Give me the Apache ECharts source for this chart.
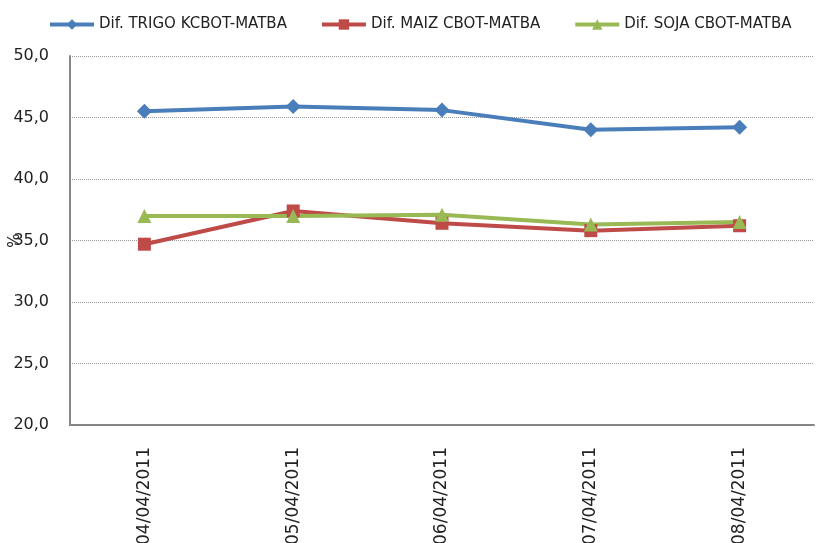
<!DOCTYPE html>
<html lang="es">
<head>
    <meta charset="UTF-8">
    <title>Dif. CBOT-MATBA</title>
    <script src="https://cdn.jsdelivr.net/npm/echarts@6/dist/echarts.min.js"></script>
    <style>
        html, body { margin: 0; padding: 0; background: #fff; }
    </style>
</head>
<body>
<div id="chart" style="width: 817px;height:543px;"></div>
<script type="text/javascript">
    var fechas = ['04/04/2011', '05/04/2011', '06/04/2011', '07/04/2011', '08/04/2011'];
    var trigo = [45.5, 45.9, 45.6, 44.0, 44.2];
    var maiz = [34.7, 37.4, 36.4, 35.8, 36.2];
    var soja = [37.0, 37.0, 37.1, 36.3, 36.5];

    var chart = echarts.init(document.getElementById('chart'));
    var font = 'DejaVu Sans';

    function serie(name, data, color, symbol, size) {
        return {
            name: name,
            type: 'line',
            data: data,
            symbol: symbol,
            symbolSize: size,
            lineStyle: {width: 4, color: color},
            itemStyle: {color: color},
            emphasis: {disabled: true}
        };
    }

    var option = {
        animation: false,
        textStyle: {fontFamily: font},
        legend: {
            top: 12,
            left: 43,
            itemWidth: 44,
            itemHeight: 13,
            itemGap: 33,
            lineStyle: {width: 4},
            textStyle: {fontSize: 15, color: '#222', fontFamily: font},
            data: ['Dif. TRIGO KCBOT-MATBA', 'Dif. MAIZ CBOT-MATBA', 'Dif. SOJA CBOT-MATBA']
        },
        grid: {left: 70, right: 3, top: 56, bottom: 118, containLabel: false, outerBoundsMode: 'none'},
        xAxis: {
            type: 'category',
            data: fechas,
            boundaryGap: true,
            axisLine: {lineStyle: {color: '#868686', width: 2}},
            axisTick: {show: false},
            axisLabel: {rotate: 90, margin: 22, fontSize: 17, color: '#222', fontFamily: font}
        },
        yAxis: {
            type: 'value',
            min: 20,
            max: 50,
            interval: 5,
            name: '%',
            nameLocation: 'middle',
            nameRotate: 90,
            nameGap: 47,
            nameMoveOverlap: false,
            nameTextStyle: {fontSize: 15, color: '#222'},
            axisLine: {show: true, lineStyle: {color: '#868686', width: 2}},
            axisTick: {show: false},
            axisLabel: {
                margin: 21, fontSize: 16, color: '#222', fontFamily: font,
                formatter: function (v) { return v.toFixed(1).replace('.', ','); }
            },
            splitLine: {lineStyle: {color: '#999', type: [1, 1], width: 1}}
        },
        series: [
            serie('Dif. TRIGO KCBOT-MATBA', trigo, '#4a7ebb', 'diamond', 15),
            serie('Dif. MAIZ CBOT-MATBA', maiz, '#be4b48', 'rect', 13),
            serie('Dif. SOJA CBOT-MATBA', soja, '#98b954', 'triangle', 14)
        ]
    };

    chart.setOption(option);
</script>
</body>
</html>
